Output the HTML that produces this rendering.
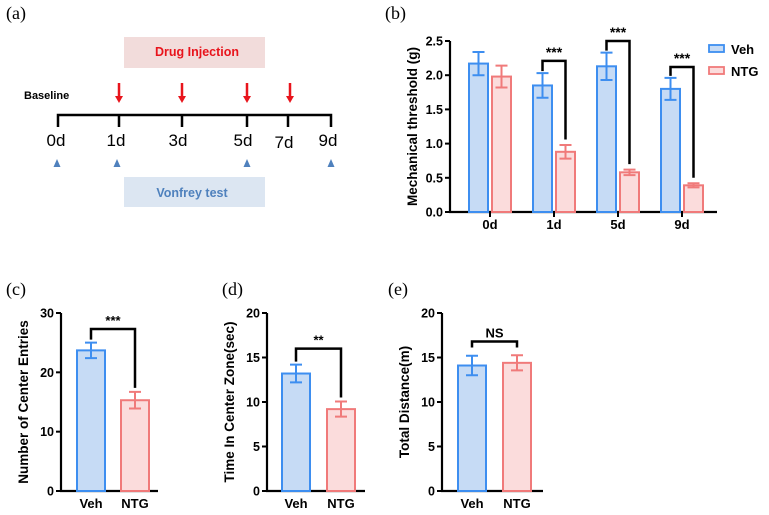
<!DOCTYPE html>
<html><head><meta charset="utf-8"><style>
body{margin:0;background:#fff;}
svg{display:block;font-family:"Liberation Sans",Arial,sans-serif;}
.ser{font-family:"Liberation Serif",serif;font-size:18px;}
.b{font-weight:bold;}
</style></head><body>
<svg id="s" width="769" height="515" viewBox="0 0 769 515">
<g>
<text class="ser" x="6" y="19">(a)</text>
<rect x="124" y="37" width="141" height="31" fill="#f2dcdb"/>
<text x="197" y="56" text-anchor="middle" fill="#e8141c" font-size="12.5" class="b">Drug Injection</text>
<rect x="124" y="177" width="141" height="30" fill="#dce6f2"/>
<text x="192" y="197" text-anchor="middle" fill="#4f81bd" font-size="12.5" class="b">Vonfrey test</text>
<text x="24" y="99" font-size="11" class="b">Baseline</text>
<path d="M58 127V115H331V127M119 115V127M182 115V127M247 115V127M288 115V127" stroke="#000" stroke-width="2.5" fill="none"/>
<g font-size="17" text-anchor="middle">
<text x="56" y="146">0d</text><text x="116" y="146">1d</text><text x="178" y="146">3d</text><text x="243" y="146">5d</text><text x="284" y="148">7d</text><text x="328" y="146">9d</text></g>
<g id="arrows"></g>
<g id="tris"></g>
</g>
</svg>
<script>
const NS="http://www.w3.org/2000/svg";
const svg=document.getElementById('s');
function el(t,a,p){const e=document.createElementNS(NS,t);for(const k in a)e.setAttribute(k,a[k]);(p||svg).appendChild(e);return e;}
const arrowXs=[119,182,247,290];
arrowXs.forEach(x=>{const g=el('g',{},document.getElementById('arrows'));
el('line',{x1:x,y1:83,x2:x,y2:97,stroke:'#e8141c','stroke-width':2.5},g);
el('path',{d:`M${x-4} 96L${x+4} 96L${x} 103Z`,fill:'#e8141c'},g);});
const triXs=[57,117,247,331];
triXs.forEach(x=>{el('path',{d:`M${x-3.5} 167L${x+3.5} 167L${x} 159Z`,fill:'#4f81bd'},document.getElementById('tris'));});

// Panel b data
const bCats=["0d","1d","5d","9d"];
const bVeh=[2.17,1.85,2.13,1.80];
const bVehErr=[0.17,0.18,0.20,0.16];
const bNtg=[1.98,0.88,0.58,0.39];
const bNtgErr=[0.16,0.10,0.04,0.03];
const bSig=["","***","***","***"];
const bSigY=[0,2.21,2.50,2.12];
const bTicks=[0,0.5,1.0,1.5,2.0,2.5];
// Panels c,d,e data
const cCats=["Veh","NTG"],cVals=[23.7,15.3],cErr=[1.3,1.4],cTicks=[0,10,20,30];
const dCats=["Veh","NTG"],dVals=[13.2,9.2],dErr=[1.0,0.85],dTicks=[0,5,10,15,20];
const eCats=["Veh","NTG"],eVals=[14.1,14.4],eErr=[1.1,0.85],eTicks=[0,5,10,15,20];

const BL='#3d8ef0',BF='#c6dbf5',RL='#f07a7a',RF='#fbdcdc';
function axes(g,ax,y0,yTop,max,ticks,xEnd,title,fmt){
  const sy=v=>y0-(v/max)*(y0-yTop);
  el('line',{x1:ax,y1:yTop,x2:ax,y2:y0+1,stroke:'#000','stroke-width':2.2},g);
  el('line',{x1:ax-1,y1:y0,x2:xEnd,y2:y0,stroke:'#000','stroke-width':2.2},g);
  ticks.forEach(t=>{el('line',{x1:ax-5,y1:sy(t),x2:ax,y2:sy(t),stroke:'#000','stroke-width':2},g);
    const tx=el('text',{x:ax-7,y:sy(t)+4.5,'text-anchor':'end','font-size':12.5,'font-weight':'bold'},g);tx.textContent=fmt(t);});
  const cy=(y0+yTop)/2;
  const tt=el('text',{x:0,y:0,transform:`translate(${ax-33},${cy}) rotate(-90)`,'text-anchor':'middle','font-size':13.5,'font-weight':'bold'},g);
  
  
  tt.textContent=title;
  return sy;
}
function bar(g,x,w,v,e,sy,y0,line,fill,name){
  const r=el('rect',{x:x,y:sy(v),width:w,height:y0-sy(v),fill:fill,stroke:line,'stroke-width':2},g);
  
  
  const cx=x+w/2;
  el('path',{d:`M${cx-6} ${sy(v+e)}H${cx+6}M${cx} ${sy(v+e)}V${sy(v-e)}M${cx-6} ${sy(v-e)}H${cx+6}`,stroke:line,'stroke-width':2,fill:'none'},g);
}
function bracket(g,x1,x2,yb,y1,y2,txt,size){
  el('path',{d:`M${x1} ${y1}V${yb}H${x2}V${y2}`,stroke:'#000','stroke-width':2.5,fill:'none'},g);
  const t=el('text',{x:(x1+x2)/2,y:yb-4,'text-anchor':'middle','font-size':size||13,'font-weight':'bold'},g);t.textContent=txt;
}
// Panel b
(function(){
  const g=el('g',{});
  
  
  const lb=el('text',{x:385,y:19,class:'ser'},g);lb.textContent='(b)';
  const y0=212,yTop=41,ax=450;
  const sy=axes(g,ax,y0,yTop,2.5,bTicks,717,'Mechanical threshold (g)',t=>t.toFixed(1));
  const gx=i=>490+i*64;
  bCats.forEach((c,i)=>{
    const cx=gx(i);
    bar(g,cx-21,19,bVeh[i],bVehErr[i],sy,y0,BL,BF,'bar-veh-'+c);
    bar(g,cx+2,19,bNtg[i],bNtgErr[i],sy,y0,RL,RF,'bar-ntg-'+c);
    el('line',{x1:cx,y1:y0,x2:cx,y2:y0+5,stroke:'#000','stroke-width':2},g);
    const t=el('text',{x:cx,y:229,'text-anchor':'middle','font-size':13,'font-weight':'bold'},g);t.textContent=c;
    if(bSig[i]){bracket(g,cx-11.5,cx+11.5,sy(bSigY[i]),sy(bVeh[i]+bVehErr[i])-2,sy(bNtg[i]+bNtgErr[i]+0.08),bSig[i],14);}
  });
  const lg=el('g',{},g);
  
  
  el('rect',{x:709,y:45,width:15,height:7,fill:BF,stroke:BL,'stroke-width':1.8},lg);
  el('rect',{x:709,y:67,width:15,height:7,fill:RF,stroke:RL,'stroke-width':1.8},lg);
  let t=el('text',{x:731,y:54,'font-size':13,'font-weight':'bold'},lg);t.textContent='Veh';
  t=el('text',{x:731,y:76,'font-size':13,'font-weight':'bold'},lg);t.textContent='NTG';
})();
function small(name,lab,lx,ax,xEnd,max,ticks,cats,vals,errs,bars,title,sig,sigV,y1off){
  const g=el('g',{});
  
  
  const lb=el('text',{x:lx,y:295,class:'ser'},g);lb.textContent=lab;
  const y0=491,yTop=313;
  const sy=axes(g,ax,y0,yTop,max,ticks,xEnd,title,t=>String(t));
  const cs=[];
  cats.forEach((c,i)=>{
    const x=bars[i];cs.push(x+14);
    bar(g,x,28,vals[i],errs[i],sy,y0,i?RL:BL,i?RF:BF,'bar-'+c.toLowerCase());
    const t=el('text',{x:x+14,y:508,'text-anchor':'middle','font-size':13,'font-weight':'bold'},g);t.textContent=c;
  });
  const yb=sy(sigV);
  bracket(g,cs[0],cs[1],yb,y1off[0]?sy(vals[0]+errs[0])-3:yb+6,y1off[1]?sy(vals[1]+errs[1])-4:yb+6,sig,13);
}
small('panel-c','(c)',6,61,158,30,cTicks,cCats,cVals,cErr,[77,121],'Number of Center Entries','***',27.3,[1,1]);
small('panel-d','(d)',222,267,365,20,dTicks,dCats,dVals,dErr,[282,327],'Time In  Center Zone(sec)','**',16.0,[1,1]);
small('panel-e','(e)',388,442,543,20,eTicks,eCats,eVals,eErr,[458,503],'Total Distance(m)','NS',16.8,[0,0]);
</script>
</body></html>
